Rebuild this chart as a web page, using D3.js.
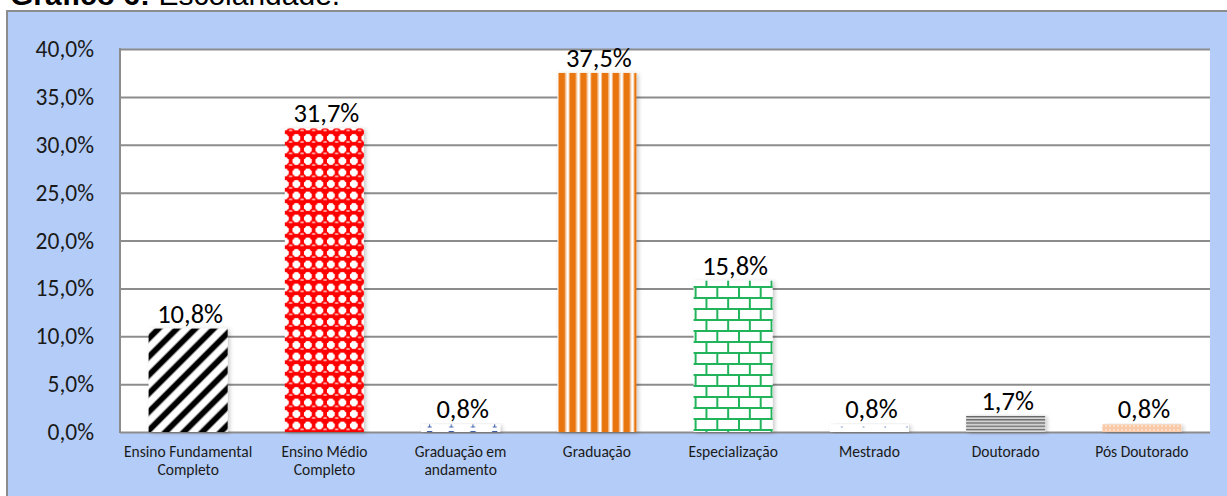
<!DOCTYPE html>
<html>
<head>
<meta charset="utf-8">
<script src="https://cdnjs.cloudflare.com/ajax/libs/d3/7.8.5/d3.min.js"></script>
<style>
    body { margin: 0; background: #fff; }
    svg { display: block; }
</style>
</head>
<body>
<div class="canvas"></div>
<script>
const categories = ['Ensino Fundamental Completo', 'Ensino Médio Completo', 'Graduação em andamento', 'Graduação',
    'Especialização', 'Mestrado', 'Doutorado', 'Pós Doutorado'];
const tickLabels = [['Ensino Fundamental', 'Completo'], ['Ensino Médio', 'Completo'], ['Graduação em', 'andamento'],
    ['Graduação'], ['Especialização'], ['Mestrado'], ['Doutorado'], ['Pós Doutorado']];
const values = [10.8, 31.7, 0.8, 37.5, 15.8, 0.8, 1.7, 0.8];
const yTicks = [0, 5, 10, 15, 20, 25, 30, 35, 40];

const dims = { width: 1227, height: 496 };
const plot = { left: 120, right: 1210, top: 49, bottom: 432 };
const font = 'Calibri, Carlito, Lato, sans-serif';
const fmt = v => v.toFixed(1).replace('.', ',') + '%';

const svg = d3.select('.canvas')
    .append('svg')
    .attr('width', dims.width)
    .attr('height', dims.height)
;

const x = d3.scaleBand()
    .domain(categories)
    .range([plot.left, plot.right])
    .paddingInner(0.42)
    .paddingOuter(0.21)
;

const y = d3.scaleLinear()
    .domain([0, 40])
    .range([plot.bottom, plot.top])
;

// patterns, one per bar
const defs = svg.append('defs');
const pattern = (id, w, h, ox = 0) => defs.append('pattern')
    .attr('id', id)
    .attr('patternUnits', 'userSpaceOnUse')
    .attr('x', ox)
    .attr('width', w)
    .attr('height', h)
;
const rect = (p, x0, y0, w, h, fill) => p.append('rect')
    .attr('x', x0).attr('y', y0).attr('width', w).attr('height', h).attr('fill', fill);

const diag = pattern('p0', 13, 13).attr('patternTransform', 'rotate(45)');
rect(diag, 0, 0, 13, 13, '#fff');
rect(diag, 3, 0, 7, 13, '#999');
rect(diag, 4, 0, 5, 13, '#000');

// red spheres on a white checker
const sph = pattern('p1', 11.5, 11.5, x(categories[1]));
rect(sph, 0, 0, 11.5, 11.5, '#fff');
rect(sph, 0, 3.9, 11.5, 3.7, '#f00');
rect(sph, 3.9, 0, 3.7, 11.5, '#f00');
sph.append('circle').attr('cx', 5.75).attr('cy', 5.75).attr('r', 4.5).attr('fill', '#f00');
sph.append('ellipse').attr('cx', 5.75).attr('cy', 3.9).attr('rx', 2).attr('ry', 0.9).attr('fill', '#ffd0d0');

const ibeam = pattern('p2', 21.7, 10, x(categories[2]) - 2);
rect(ibeam, 0, 0, 21.7, 10, '#fff');
ibeam.append('path')
    .attr('d', 'M8.5,1.5 L12.5,1.5 L10.5,4 Z M10.5,4 L10.5,6.5 M8.5,7 L12.5,7')
    .attr('stroke', '#3a5ca8').attr('stroke-width', 1).attr('fill', '#3a5ca8');

const vst = pattern('p3', 10.8, 10, x(categories[3]) + 1.5);
rect(vst, 0, 0, 10.8, 10, '#fff');
rect(vst, 0, 0, 6.5, 10, '#e8750f');
rect(vst, 6.5, 0, 1, 10, '#f6c193');
rect(vst, 9.8, 0, 1, 10, '#f6c193');

const brick = pattern('p4', 21.7, 22, x(categories[4]) + 1);
rect(brick, 0, 0, 21.7, 22, '#fff');
rect(brick, 0, 0, 21.7, 2, '#22b45a');
rect(brick, 0, 11, 21.7, 2, '#22b45a');
rect(brick, 0, 0, 2, 11, '#22b45a');
rect(brick, 10.85, 11, 2, 11, '#22b45a');

const dots = pattern('p5', 21.7, 10, x(categories[5]) + 2);
rect(dots, 0, 0, 21.7, 10, '#fff');
dots.append('circle').attr('cx', 10).attr('cy', 7).attr('r', 0.8).attr('fill', '#6d8fc7');

const hst = pattern('p6', 4, 3.2);
rect(hst, 0, 0, 4, 3.2, '#dcdcdc');
rect(hst, 0, 0, 4, 1.3, '#606060');
rect(hst, 0, 1.3, 4, 0.5, '#a8a8a8');

const peach = pattern('p7', 4, 4);
rect(peach, 0, 0, 4, 4, '#f8caa8');
peach.append('circle').attr('cx', 2).attr('cy', 2).attr('r', 0.9).attr('fill', '#fde9da');

const shadow = defs.append('filter')
    .attr('id', 'shadow')
    .attr('x', '-10%').attr('y', '-10%')
    .attr('width', '130%').attr('height', '130%')
;
shadow.append('feDropShadow')
    .attr('dx', 2).attr('dy', 1)
    .attr('stdDeviation', 2)
    .attr('flood-color', '#000')
    .attr('flood-opacity', 0.22)
;

// frame + title (title is cut by the top edge, as in the source)
svg.append('rect')
    .attr('x', 7).attr('y', 11)
    .attr('width', dims.width).attr('height', dims.height)
    .attr('fill', '#b4cdf8')
    .attr('stroke', '#8c8c8c')
    .attr('stroke-width', 2)
;

const title = svg.append('text')
    .attr('x', 10).attr('y', 5)
    .attr('font-family', 'Liberation Sans, Arial, sans-serif')
    .attr('font-size', 30)
    .attr('fill', '#000')
;
title.append('tspan').attr('font-weight', 'bold').text('Gráfico 6:');
title.append('tspan').text(' Escolaridade.');

// plot area
svg.append('rect')
    .attr('x', plot.left).attr('y', plot.top)
    .attr('width', plot.right - plot.left)
    .attr('height', plot.bottom - plot.top)
    .attr('fill', '#fff')
;

const yAxis = d3.axisLeft(y)
    .tickValues(yTicks)
    .tickSize(-(plot.right - plot.left))
    .tickPadding(26)
    .tickFormat(fmt)
;

const gy = svg.append('g')
    .attr('transform', `translate(${plot.left}, 0)`)
    .call(yAxis)
;
gy.select('.domain').remove();
gy.selectAll('.tick line')
    .attr('stroke', '#8c8c8c')
    .attr('stroke-width', 2)
;
gy.selectAll('.tick text')
    .attr('font-family', font)
    .attr('font-size', 23.5)
    .attr('fill', '#1a1a1a')
;

svg.append('line')
    .attr('x1', plot.left).attr('x2', plot.left)
    .attr('y1', plot.top - 1).attr('y2', plot.bottom + 1)
    .attr('stroke', '#8c8c8c')
    .attr('stroke-width', 2)
;

// bars
const bars = svg.append('g');
bars.selectAll('rect')
    .data(values)
    .enter()
    .append('rect')
    .attr('x', (d, i) => x(categories[i]))
    .attr('y', d => y(d))
    .attr('width', x.bandwidth())
    .attr('height', d => y(0) - y(d))
    .attr('fill', (d, i) => `url(#p${i})`)
    .attr('filter', 'url(#shadow)')
;

// value labels
svg.append('g').selectAll('text')
    .data(values)
    .enter()
    .append('text')
    .attr('x', (d, i) => x(categories[i]) + x.bandwidth() / 2 + 2)
    .attr('y', d => y(d) - 6)
    .attr('text-anchor', 'middle')
    .attr('font-family', font)
    .attr('font-size', 26.5)
    .attr('fill', '#000')
    .text(fmt)
;

// category labels
const cats = svg.append('g').selectAll('text')
    .data(tickLabels)
    .enter()
    .append('text')
    .attr('x', (d, i) => x(categories[i]) + x.bandwidth() / 2)
    .attr('y', 457)
    .attr('text-anchor', 'middle')
    .attr('font-family', font)
    .attr('font-size', 15.5)
    .attr('fill', '#1a1a1a')
;
cats.selectAll('tspan')
    .data(d => d)
    .enter()
    .append('tspan')
    .attr('x', function () { return this.parentNode.getAttribute('x'); })
    .attr('dy', (d, i) => i === 0 ? 0 : 18)
    .text(d => d)
;
</script>
</body>
</html>
